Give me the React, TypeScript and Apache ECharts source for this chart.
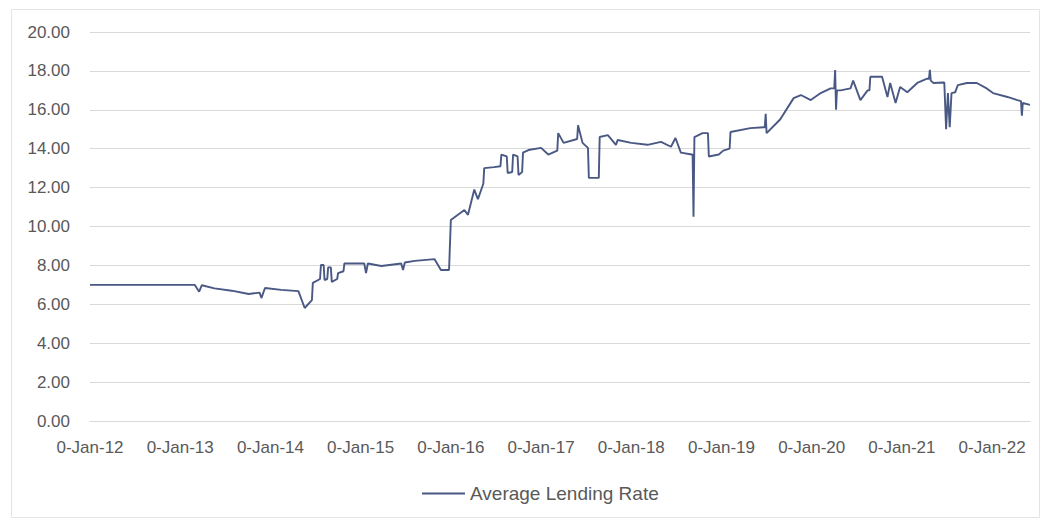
import React, { useEffect, useRef } from "react";
import * as echarts from "echarts";

// Observation dates, expressed as fractional years
const years: number[] = [
  2012.0, 2013.16, 2013.21, 2013.24, 2013.38, 2013.57, 2013.76, 2013.88, 2013.9, 2013.94,
  2014.12, 2014.31, 2014.38, 2014.46, 2014.47, 2014.55, 2014.56, 2014.59, 2014.6, 2014.63,
  2014.64, 2014.67, 2014.68, 2014.74, 2014.75, 2014.81, 2014.82, 2015.04, 2015.06, 2015.08,
  2015.23, 2015.45, 2015.47, 2015.49, 2015.6, 2015.82, 2015.89, 2015.98, 2016.0, 2016.15,
  2016.19, 2016.26, 2016.3, 2016.36, 2016.37, 2016.48, 2016.55, 2016.56, 2016.62, 2016.63,
  2016.68, 2016.69, 2016.74, 2016.75, 2016.79, 2016.8, 2016.86, 2017.0, 2017.08, 2017.18,
  2017.19, 2017.25, 2017.4, 2017.41, 2017.46, 2017.52, 2017.53, 2017.64, 2017.65, 2017.74,
  2017.83, 2017.85, 2018.0, 2018.18, 2018.33, 2018.44, 2018.49, 2018.55, 2018.67, 2018.68,
  2018.69, 2018.7, 2018.79, 2018.85, 2018.86, 2018.97, 2019.02, 2019.09, 2019.1, 2019.32,
  2019.47, 2019.48, 2019.49, 2019.5, 2019.65, 2019.8, 2019.88, 2019.99, 2020.1, 2020.21,
  2020.25, 2020.26, 2020.27, 2020.28, 2020.32, 2020.43, 2020.46, 2020.54, 2020.62, 2020.64,
  2020.65, 2020.78, 2020.84, 2020.87, 2020.93, 2020.98, 2021.06, 2021.17, 2021.28, 2021.3,
  2021.31, 2021.32, 2021.35, 2021.46, 2021.47, 2021.49, 2021.51, 2021.53, 2021.55, 2021.59,
  2021.62, 2021.72, 2021.83, 2021.94, 2022.01, 2022.17, 2022.28, 2022.32, 2022.33, 2022.34,
  2022.42,
];

// Average lending rate (%) at each date above
const lendingRate: number[] = [
  7.0, 7.0, 6.65, 6.98, 6.82, 6.7, 6.53, 6.6, 6.32, 6.84,
  6.74, 6.68, 5.81, 6.22, 7.1, 7.3, 8.02, 8.02, 7.25, 7.3,
  7.9, 7.9, 7.15, 7.3, 7.6, 7.7, 8.1, 8.1, 7.6, 8.1,
  7.97, 8.1, 7.76, 8.15, 8.23, 8.32, 7.76, 7.76, 10.33, 10.85,
  10.6, 11.9, 11.4, 12.2, 13.0, 13.05, 13.1, 13.7, 13.6, 12.75,
  12.8, 13.7, 13.6, 12.65, 12.8, 13.8, 13.93, 14.04, 13.7, 13.9,
  14.8, 14.3, 14.5, 15.2, 14.3, 14.04, 12.5, 12.5, 14.6, 14.7,
  14.2, 14.45, 14.3, 14.2, 14.35, 14.1, 14.55, 13.8, 13.7, 13.7,
  10.5, 14.6, 14.8, 14.8, 13.6, 13.7, 13.9, 14.0, 14.86, 15.06,
  15.1, 15.1, 15.8, 14.8, 15.5, 16.6, 16.76, 16.5, 16.86, 17.1,
  17.1, 18.05, 16.0, 17.0, 17.0, 17.1, 17.5, 16.5, 17.0, 17.0,
  17.7, 17.7, 16.66, 17.38, 16.35, 17.17, 16.9, 17.38, 17.6, 17.6,
  18.05, 17.5, 17.38, 17.4, 17.4, 15.0, 16.86, 15.1, 16.86, 16.9,
  17.27, 17.38, 17.38, 17.1, 16.86, 16.66, 16.5, 16.45, 15.7, 16.35,
  16.25,
];

// Axis extents
const xStart = 2012;
const xEnd = 2022.42;
const yTicks = { min: 0, max: 20, step: 2 };

const seriesName = "Average Lending Rate";

const FONT = "'Liberation Sans', Arial, sans-serif";
const TEXT = "#595959";
const GRID = "#d9d9d9";
const LINE = "#4a5884";

export default function App() {
  const ref = useRef<HTMLDivElement>(null);

  useEffect(() => {
    if (!ref.current) return;
    const chart = echarts.init(ref.current, undefined, { renderer: "svg" });

    const points = years.map((y, i) => [y, lendingRate[i]]);

    chart.setOption({
      animation: false,
      backgroundColor: "#ffffff",
      textStyle: { fontFamily: FONT },
      grid: { left: 90, right: 18, top: 32, bottom: 104, containLabel: false },
      graphic: [
        {
          type: "rect",
          shape: { x: 11.5, y: 9.5, width: 1028, height: 508 },
          style: { fill: "none", stroke: "#e4e4e4", lineWidth: 1 },
          silent: true,
        },
      ],
      legend: {
        data: [seriesName],
        left: 417,
        top: 479,
        icon: "rect",
        itemWidth: 43,
        itemHeight: 2,
        textStyle: { color: TEXT, fontSize: 19, fontFamily: FONT },
      },
      xAxis: {
        type: "value",
        min: xStart,
        max: xEnd,
        interval: 1,
        axisLine: { show: true, lineStyle: { color: GRID } },
        axisTick: { show: false },
        splitLine: { show: false },
        axisLabel: {
          color: TEXT,
          fontSize: 17,
          fontFamily: FONT,
          margin: 18,
          showMaxLabel: false,
          formatter: (v: number) =>
            Number.isInteger(v) ? `0-Jan-${String(v).slice(2)}` : "",
        },
      },
      yAxis: {
        type: "value",
        min: yTicks.min,
        max: yTicks.max,
        interval: yTicks.step,
        axisLine: { show: false },
        axisTick: { show: false },
        splitLine: { lineStyle: { color: GRID, width: 1 } },
        axisLabel: {
          color: TEXT,
          fontSize: 17,
          fontFamily: FONT,
          margin: 20,
          formatter: (v: number) => v.toFixed(2),
        },
      },
      series: [
        {
          name: seriesName,
          type: "line",
          data: points,
          showSymbol: false,
          symbol: "none",
          color: LINE,
          lineStyle: { color: LINE, width: 1.9 },
        },
      ],
    });

    return () => chart.dispose();
  }, []);

  return (
    <div
      ref={ref}
      style={{ position: "absolute", left: 0, top: 0, width: 1048, height: 525 }}
    />
  );
}
